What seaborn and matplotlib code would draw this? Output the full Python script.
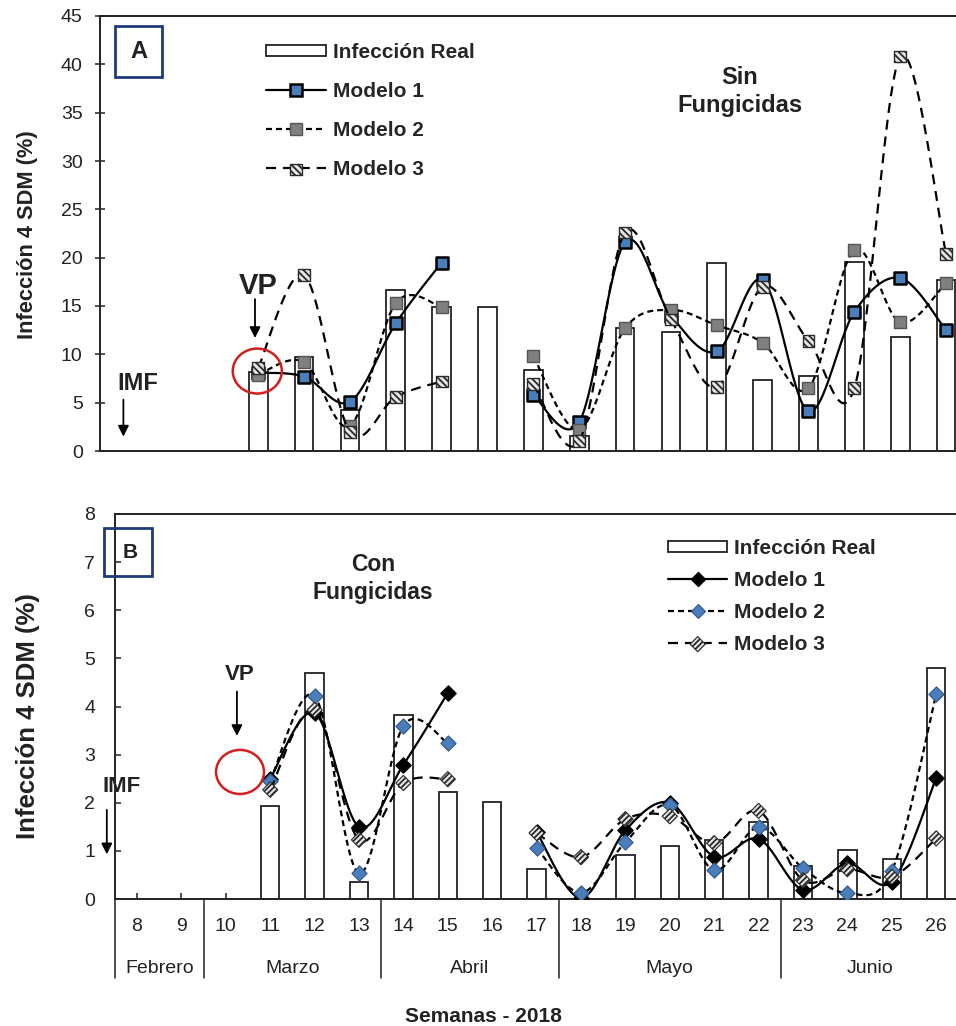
import numpy as np
import pandas as pd
import matplotlib
matplotlib.use("Agg")
import matplotlib.pyplot as plt
import matplotlib.transforms as mtrans
import seaborn as sns
from matplotlib.patches import Patch, Ellipse, Rectangle
from matplotlib.lines import Line2D
from matplotlib.legend_handler import HandlerTuple, HandlerPathCollection

# ---------------- data ----------------
nan = np.nan
weeks_all = list(range(8, 27))          # week tick labels
weeks = list(range(11, 27))             # weeks with observations
months = ["Febrero", "Marzo", "Abril", "Mayo", "Junio"]
month_start = [8, 10, 14, 18, 23]
month_end = [9, 13, 17, 22, 26]

# Panel A - Sin fungicidas
real_A = [8.2, 9.7, 4.2, 16.7, 14.9, 14.9, 8.4, 1.6, 12.7, 12.3, 19.5, 7.3, 7.8, 19.6, 11.8, 17.7]
m1_A = [8.1, 7.7, 5.1, 13.2, 19.5, nan, 5.8, 3.0, 21.6, 14.0, 10.3, 17.7, 4.1, 14.4, 17.9, 12.5]
m2_A = [7.9, 9.2, 2.6, 15.3, 14.9, nan, 9.8, 2.2, 12.7, 14.6, 13.0, 11.2, 6.5, 20.8, 13.3, 17.4]
m3_A = [8.6, 18.2, 2.0, 5.6, 7.2, nan, 6.9, 1.0, 22.6, 13.6, 6.6, 17.0, 11.4, 6.5, 40.8, 20.4]

# Panel B - Con fungicidas
real_B = [1.93, 4.70, 0.35, 3.83, 2.22, 2.02, 0.62, 0.0, 0.91, 1.10, 1.23, 1.60, 0.69, 1.02, 0.83, 4.80]
m1_B = [2.50, 3.87, 1.50, 2.79, 4.28, nan, 1.39, 0.02, 1.43, 2.00, 0.88, 1.25, 0.19, 0.74, 0.36, 2.51]
m2_B = [2.45, 4.22, 0.53, 3.60, 3.24, nan, 1.06, 0.13, 1.18, 1.95, 0.60, 1.49, 0.64, 0.12, 0.58, 4.26]
m3_B = [2.27, 3.93, 1.23, 2.41, 2.49, nan, 1.37, 0.87, 1.66, 1.72, 1.16, 1.83, 0.39, 0.62, 0.46, 1.26]

labels = ["Infección Real", "Modelo 1", "Modelo 2", "Modelo 3"]

# ---------------- style ----------------
sns.set_theme(style="white")
plt.rcParams["font.family"] = ["Liberation Sans", "DejaVu Sans"]
plt.rcParams["hatch.color"] = "#2a2a2a"
plt.rcParams["hatch.linewidth"] = 1.3
plt.rcParams["axes.edgecolor"] = "#222222"
plt.rcParams["axes.linewidth"] = 1.4

BLUE = "#4A7EBB"
GRAY = "#808080"
LW = 1.6
LS1 = "-"
LS2 = (0, (2.7, 1.8))
LS3 = (0, (4.5, 3.1))

W, H = 956, 1026
fig = plt.figure(figsize=(W / 100, H / 100), dpi=100)


def smooth_runs(xs, ys, n=30):
    """Spreadsheet-style smoothed line (cubic Bezier through the points),
    split where a value is missing."""
    x = np.asarray(xs, float)
    y = np.asarray(ys, float)
    ok = ~np.isnan(y)
    runs, cur = [], []
    for i in range(len(x)):
        if ok[i]:
            cur.append(i)
        else:
            if cur:
                runs.append(cur)
            cur = []
    if cur:
        runs.append(cur)
    out = []
    for r in runs:
        P = np.column_stack([x[r], y[r]])
        if len(P) < 2:
            continue
        pts = []
        t = np.linspace(0, 1, n)[:, None]
        for i in range(len(P) - 1):
            p0 = P[i - 1] if i > 0 else P[i]
            p1, p2 = P[i], P[i + 1]
            p3 = P[i + 2] if i + 2 < len(P) else P[i + 1]
            c1 = p1 + (p2 - p0) / 6.0
            c2 = p2 - (p3 - p1) / 6.0
            B = (1 - t) ** 3 * p1 + 3 * (1 - t) ** 2 * t * c1 + 3 * (1 - t) * t ** 2 * c2 + t ** 3 * p2
            pts.append(B if i == len(P) - 2 else B[:-1])
        out.append(np.vstack(pts))
    return out


def draw_series(ax, vals, ls, marker, size, fc, ec, mlw, hatch=None, z=3):
    for seg in smooth_runs(weeks, vals):
        sns.lineplot(x=seg[:, 0], y=seg[:, 1], sort=False, estimator=None,
                     color="black", linestyle=ls, linewidth=LW, ax=ax, zorder=z)
    df = pd.DataFrame({"w": weeks, "v": vals}).dropna()
    kw = {}
    if hatch is not None:
        kw["hatch"] = hatch
    sns.scatterplot(data=df, x="w", y="v", marker=marker, s=size, color=fc,
                    edgecolor=ec, linewidth=mlw, ax=ax, zorder=z + 0.5,
                    legend=False, **kw)
    return ax.collections[-1]


def bars(ax, vals):
    sns.barplot(x=weeks, y=vals, native_scale=True, width=0.41, color="white",
                saturation=1, edgecolor="#222222", linewidth=1.3, errorbar=None,
                ax=ax, zorder=2)


# ================= Panel A =================
axA = fig.add_axes([100 / W, 1 - 451 / H, 869 / W, 435 / H])
bars(axA, real_A)
draw_series(axA, m1_A, LS1, "s", 72, BLUE, "black", 1.8, z=3)
draw_series(axA, m2_A, LS2, "s", 72, GRAY, "#555555", 1.0, z=4)
hA3 = draw_series(axA, m3_A, LS3, "s", 72, "#e6e6e6", "#2a2a2a", 1.0,
                  hatch="\\\\\\\\\\", z=5)
axA.set_xlim(7.55, 26.5)
axA.set_ylim(0, 45)
axA.set_yticks(range(0, 46, 5))
axA.set_xticks([])
axA.set_xlabel("")
axA.tick_params(axis="y", direction="inout", length=7, width=1.1, pad=9,
                labelsize=14, colors="#222222", left=True)
axA.spines["right"].set_visible(False)
axA.set_ylabel("Infección 4 SDM (%)", fontsize=15.7, fontweight="bold", color="#222222")
axA.yaxis.set_label_coords(-0.071, 0.497)

axA.text(21.5, 37.2, "Sin\nFungicidas", ha="center", va="center", fontsize=17,
         fontweight="bold", color="#222222", linespacing=1.25)
axA.text(11.0, 17.1, "VP", ha="center", va="center", fontsize=21, fontweight="bold", color="#222222")
axA.annotate("", xy=(10.93, 11.4), xytext=(10.93, 16.0),
             arrowprops=dict(arrowstyle="-|>", color="black", lw=1.3, mutation_scale=16))
axA.add_patch(Ellipse((10.98, 8.27), 1.07, 4.65, fill=False, edgecolor="#d02020", lw=1.8, zorder=6))
axA.text(8.38, 7.0, "IMF", ha="center", va="center", fontsize=17, fontweight="bold", color="#222222")
axA.annotate("", xy=(8.06, 1.2), xytext=(8.06, 5.6),
             arrowprops=dict(arrowstyle="-|>", color="black", lw=1.3, mutation_scale=16))

legA_handles = [
    Patch(facecolor="white", edgecolor="#222222", linewidth=1.3),
    Line2D([], [], color="black", lw=LW, ls=LS1, marker="s", ms=8.5, mfc=BLUE, mec="black", mew=1.8),
    Line2D([], [], color="black", lw=LW, ls=LS2, marker="s", ms=8.5, mfc=GRAY, mec="#555555", mew=1.0),
    (Line2D([], [], color="black", lw=LW, ls=LS3), hA3),
]
axA.legend(legA_handles, labels, loc="upper left", bbox_to_anchor=(266 / W, 1 - 43 / H),
           bbox_transform=fig.transFigure, frameon=False, borderpad=0, borderaxespad=0,
           handlelength=2.9, handleheight=0.45, handletextpad=0.3, labelspacing=0.96,
           prop={"weight": "bold", "size": 15},
           handler_map={tuple: HandlerTuple(ndivide=1),
                        type(hA3): HandlerPathCollection(yoffsets=[0.5])})

# ================= Panel B =================
axB = fig.add_axes([114.8 / W, 1 - 899 / H, 843.6 / W, 385 / H])
bars(axB, real_B)
draw_series(axB, m1_B, LS1, "D", 60, "black", "black", 1.0, z=3)
draw_series(axB, m2_B, LS2, "D", 60, BLUE, "#2f5588", 0.8, z=4)
hB3 = draw_series(axB, m3_B, LS3, "D", 60, "#e6e6e6", "#2a2a2a", 0.8,
                  hatch="//////", z=5)
axB.set_xlim(7.5, 26.5)
axB.set_ylim(0, 8)
axB.set_yticks(range(0, 9))
axB.set_xticks(weeks_all)
axB.set_xticklabels([str(w) for w in weeks_all])
axB.set_xlabel("")
axB.tick_params(axis="y", direction="in", length=4, width=1.1, pad=14,
                labelsize=14, colors="#222222", left=True)
axB.tick_params(axis="x", direction="in", length=4, width=1.1, pad=14,
                labelsize=14, colors="#222222", bottom=True)
axB.spines["right"].set_visible(False)
axB.set_ylabel("Infección 4 SDM (%)", fontsize=18.5, fontweight="bold", color="#222222")
axB.yaxis.set_label_coords(-0.089, 0.475)

# month row and separators
trB = mtrans.blended_transform_factory(axB.transData, axB.transAxes)
for name, a, b in zip(months, month_start, month_end):
    axB.text((a + b) / 2, -0.18, name, transform=trB, ha="center", va="center",
             fontsize=14, color="#222222")
    axB.add_line(Line2D([a - 0.5, a - 0.5], [0, -0.205], transform=trB, color="#222222",
                        lw=1.1, clip_on=False))
fig.text(483 / W, 1 - 1017 / H, "Semanas - 2018", ha="center", va="center",
         fontsize=15, fontweight="bold", color="#222222")

axB.text(13.32, 6.66, "Con\nFungicidas", ha="center", va="center", fontsize=16.5,
         fontweight="bold", color="#222222", linespacing=1.25)
axB.text(10.32, 4.66, "VP", ha="center", va="center", fontsize=16, fontweight="bold", color="#222222")
axB.annotate("", xy=(10.25, 3.33), xytext=(10.25, 4.37),
             arrowprops=dict(arrowstyle="-|>", color="black", lw=1.3, mutation_scale=16))
axB.add_patch(Ellipse((10.32, 2.64), 1.08, 0.915, fill=False, edgecolor="#d02020", lw=1.8, zorder=6))
axB.text(7.66, 2.33, "IMF", ha="center", va="center", fontsize=16, fontweight="bold",
         color="#222222", clip_on=False)
axB.annotate("", xy=(7.32, 0.87), xytext=(7.32, 1.91), annotation_clip=False,
             arrowprops=dict(arrowstyle="-|>", color="black", lw=1.3, mutation_scale=16))

legB_handles = [
    Patch(facecolor="white", edgecolor="#222222", linewidth=1.3),
    Line2D([], [], color="black", lw=LW, ls=LS1, marker="D", ms=7.5, mfc="black", mec="black"),
    Line2D([], [], color="black", lw=LW, ls=LS2, marker="D", ms=7.5, mfc=BLUE, mec="#2f5588", mew=0.8),
    (Line2D([], [], color="black", lw=LW, ls=LS3), hB3),
]
axB.legend(legB_handles, labels, loc="upper left", bbox_to_anchor=(668 / W, 1 - 539 / H),
           bbox_transform=fig.transFigure, frameon=False, borderpad=0, borderaxespad=0,
           handlelength=2.85, handleheight=0.45, handletextpad=0.33, labelspacing=0.62,
           prop={"weight": "bold", "size": 15},
           handler_map={tuple: HandlerTuple(ndivide=1),
                        type(hB3): HandlerPathCollection(yoffsets=[0.5])})

# panel letters
for (x0, y0, x1, y1, letter, fs, tx, ty) in [(115, 26, 162, 77, "A", 17, 138.5, 51.5),
                                            (104, 528, 152, 576, "B", 15, 130, 552)]:
    fig.patches.append(Rectangle((x0 / W, 1 - y1 / H), (x1 - x0) / W, (y1 - y0) / H,
                                 transform=fig.transFigure, fill=False,
                                 edgecolor="#1F3A7A", lw=2, zorder=10))
    fig.text(tx / W, 1 - ty / H, letter, ha="center", va="center", fontsize=fs,
             fontweight="bold", color="#222222", zorder=11)

fig.savefig("out.png", dpi=100)
